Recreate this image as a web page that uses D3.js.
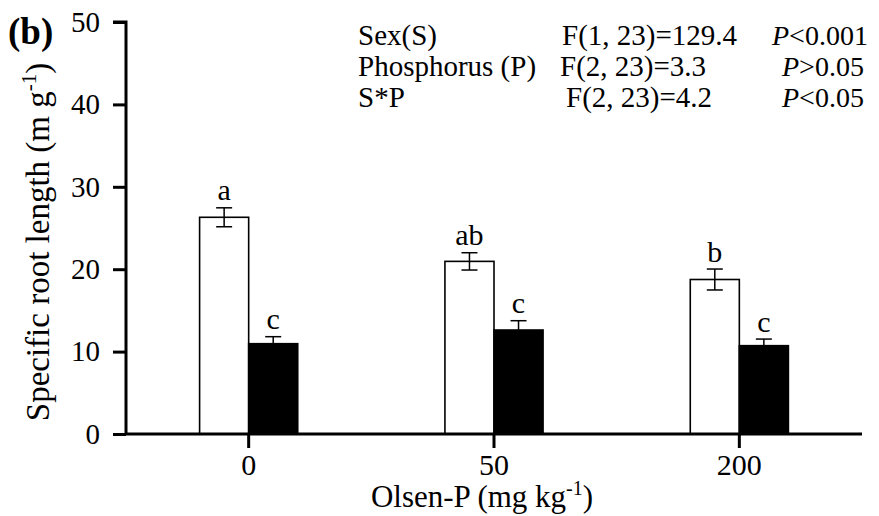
<!DOCTYPE html>
<html>
<head>
<meta charset="utf-8">
<script src="https://cdn.jsdelivr.net/npm/d3@7"></script>
<style>
  html, body { margin: 0; padding: 0; background: #fff; }
  svg { display: block; }
  text { font-family: "Liberation Serif", "Times New Roman", Times, serif; fill: #000; }
</style>
</head>
<body>
<svg id="chart" width="879" height="516"></svg>
<script>
// Olsen-P levels (mg kg-1)
const categories = ["0", "50", "200"];
// Specific root length (m g-1), open bars and filled bars
const openValues = [26.3, 20.95, 18.75];
const openErrors = [1.15, 1.05, 1.27];
const filledValues = [10.96, 12.62, 10.72];
const filledErrors = [0.85, 1.13, 0.8];
// Significance letters
const openLetters = ["a", "ab", "b"];
const filledLetters = ["c", "c", "c"];
// Y axis ticks
const yTicks = [0, 10, 20, 30, 40, 50];
// Two-way ANOVA summary
const statTerms = ["Sex(S)", "Phosphorus (P)", "S*P"];
const statF = ["F(1, 23)=129.4", "F(2, 23)=3.3", "F(2, 23)=4.2"];
const statSign = ["<0.001", ">0.05", "<0.05"];

const svg = d3.select("#chart");
const x0 = 126, x1 = 862, yTop = 22, yBase = 434;
const serif = "Liberation Serif, Times New Roman, serif";

const x = d3.scaleBand().domain(categories).range([x0, x1]).padding(0);
const y = d3.scaleLinear().domain([0, 50]).range([yBase, yTop]);
const barW = x.bandwidth() * 0.2;

const rows = categories.map((c, i) => ({
  c,
  open: { v: openValues[i], e: openErrors[i], l: openLetters[i] },
  filled: { v: filledValues[i], e: filledErrors[i], l: filledLetters[i] }
}));

// Bars with error bars and letters
const g = svg.append("g");
rows.forEach(r => {
  const cx = x(r.c) + x.bandwidth() / 2;
  [["open", cx - barW, "#fff"], ["filled", cx, "#000"]].forEach(([k, left, fill]) => {
    const d = r[k];
    g.append("rect")
      .attr("x", left).attr("y", y(d.v))
      .attr("width", barW).attr("height", y(0) - y(d.v))
      .attr("fill", fill).attr("stroke", "#000").attr("stroke-width", 1.6);
    const ex = left + barW / 2;
    const eb = g.append("g").attr("stroke", "#000").attr("stroke-width", 1.5);
    eb.append("line").attr("x1", ex).attr("x2", ex).attr("y1", y(d.v + d.e)).attr("y2", y(d.v - d.e));
    eb.append("line").attr("x1", ex - 8).attr("x2", ex + 8).attr("y1", y(d.v + d.e)).attr("y2", y(d.v + d.e));
    eb.append("line").attr("x1", ex - 8).attr("x2", ex + 8).attr("y1", y(d.v - d.e)).attr("y2", y(d.v - d.e));
    g.append("text")
      .attr("x", ex).attr("y", y(d.v + d.e) - 7.5)
      .attr("text-anchor", "middle").attr("font-size", 30)
      .text(d.l);
  });
});

// Y axis
const yAxis = svg.append("g")
  .attr("transform", `translate(${x0},0)`)
  .call(d3.axisLeft(y).tickValues(yTicks).tickSize(13).tickPadding(13).tickFormat(d3.format("d")));
yAxis.select(".domain").attr("d", `M0,${yBase}V${yTop}H-13`).attr("stroke-width", 3).attr("fill", "none");
yAxis.selectAll(".tick line").attr("stroke-width", 3);
yAxis.selectAll(".tick text").attr("font-size", 29).attr("font-family", serif).attr("fill", "#000");

// X axis
const xAxis = svg.append("g")
  .attr("transform", `translate(0,${yBase})`)
  .call(d3.axisBottom(x).tickSize(14).tickPadding(6));
xAxis.select(".domain").attr("d", `M${x0},0H${x1}`).attr("stroke-width", 3).attr("fill", "none");
xAxis.selectAll(".tick line").attr("stroke-width", 3);
xAxis.selectAll(".tick text").attr("font-size", 30).attr("font-family", serif).attr("fill", "#000");

// Axis titles
const yt = svg.append("text")
  .attr("transform", "translate(49,242) rotate(-90)")
  .attr("text-anchor", "middle").attr("font-size", 33);
yt.append("tspan").text("Specific root length (m g");
yt.append("tspan").attr("font-size", 21).attr("dy", -13).text("-1");
yt.append("tspan").attr("dy", 13).text(")");

const xt = svg.append("text")
  .attr("x", 482).attr("y", 507)
  .attr("text-anchor", "middle").attr("font-size", 31);
xt.append("tspan").text("Olsen-P (mg kg");
xt.append("tspan").attr("font-size", 20).attr("dy", -12).text("-1");
xt.append("tspan").attr("dy", 12).text(")");

// Panel label
svg.append("text").attr("x", 8).attr("y", 44)
  .attr("font-size", 37).attr("font-weight", "bold").text("(b)");

// ANOVA table
const colTerm = [358, 358, 358];
const colF = [562, 560, 566];
const colP = [772, 782, 782];
const baseY = [45, 76, 107];
statTerms.forEach((t, i) => {
  svg.append("text").attr("x", colTerm[i]).attr("y", baseY[i]).attr("font-size", 29).text(t);
  svg.append("text").attr("x", colF[i]).attr("y", baseY[i]).attr("font-size", 29).text(statF[i]);
  const p = svg.append("text").attr("x", colP[i]).attr("y", baseY[i]).attr("font-size", 28);
  p.append("tspan").attr("font-style", "italic").text("P");
  p.append("tspan").text(statSign[i]);
});
</script>
</body>
</html>
